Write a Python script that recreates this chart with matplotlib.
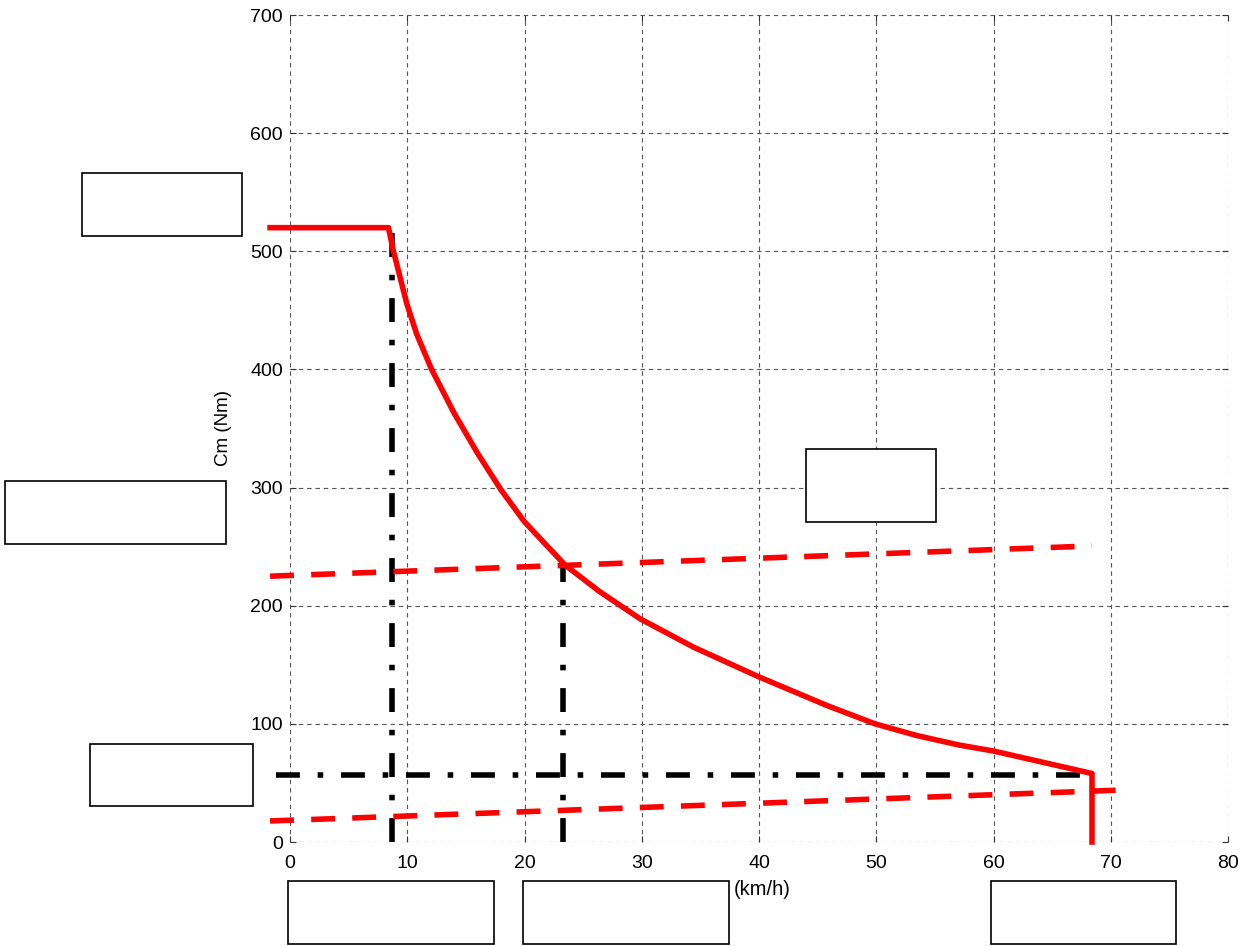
import matplotlib
matplotlib.use("Agg")
import matplotlib.pyplot as plt
from matplotlib.patches import Rectangle

plt.rcParams['font.family'] = ['Liberation Sans', 'DejaVu Sans']

# Torque curve (speed km/h, torque Nm)
curve_x = [-1.7, 8.4, 8.8, 9.95, 10.8, 12.08, 14.0, 16.0, 18.0, 20.0, 23.45,
           26.4, 29.85, 34.4, 39.94, 45.8, 49.9, 53.5, 57.1, 60.0, 68.4, 68.4]
curve_y = [520, 520, 501, 456, 430, 400, 363, 329, 298, 271, 234.5,
           212, 189, 165, 140, 115.5, 100, 90, 82, 77, 58, 0]

# Resistance lines (dashed red)
res_high_x = [-1.7, 68.4]
res_high_y = [225, 250.6]
res_low_x = [-1.7, 71.0]
res_low_y = [17.8, 44.0]

# Operating-point guides (dash-dot black)
guide_v1_x = [8.7, 8.7]
guide_v1_y = [0, 520]
guide_v2_x = [23.3, 23.3]
guide_v2_y = [0, 235]
guide_h_x = [-1.2, 68.4]
guide_h_y = [57, 57]

x_ticks = [0, 10, 20, 30, 40, 50, 60, 70, 80]
y_ticks = [0, 100, 200, 300, 400, 500, 600, 700]

W, H = 1245, 946
fig = plt.figure(figsize=(W / 100, H / 100), dpi=100)
ax = fig.add_axes([290 / W, (H - 842) / H, (1228 - 290) / W, (842 - 15) / H])
ax.set_xlim(0, 80)
ax.set_ylim(0, 700)
ax.set_xticks(x_ticks)
ax.set_yticks(y_ticks)
ax.tick_params(direction='in', length=4, labelsize=14, top=True, right=True,
               color='#333333')
ax.tick_params(axis='x', pad=9)
ax.tick_params(axis='y', pad=5)
for s in ax.spines.values():
    s.set_visible(False)
ax.grid(True, color='#555555', linestyle=(0, (4, 3.5)), linewidth=0.8)
ax.set_axisbelow(True)

LW = 4
dashdot = (0, (4.3, 3.2, 1.0, 3.2))
dashed = (0, (4.3, 3.1))
for gx, gy in [(guide_v1_x, guide_v1_y), (guide_v2_x, guide_v2_y),
               (guide_h_x, guide_h_y)]:
    ax.plot(gx, gy, color='black', lw=LW, linestyle=dashdot,
            clip_on=False, dash_capstyle='butt')
ax.plot(res_high_x, res_high_y, color='red', lw=LW, linestyle=dashed,
        clip_on=False, dash_capstyle='butt')
ax.plot(res_low_x, res_low_y, color='red', lw=LW, linestyle=dashed,
        clip_on=False, dash_capstyle='butt')
ax.plot(curve_x, curve_y, color='red', lw=LW, clip_on=False,
        solid_joinstyle='round')

fig.text(762.5 / W, 1 - 889 / H, '(km/h)', ha='center', va='center',
         fontsize=14.5)
fig.text(223 / W, 1 - 428 / H, 'Cm (Nm)', rotation=90, ha='center',
         va='center', fontsize=13.5)

boxes = [(82, 173, 242, 236), (5, 481, 226, 544), (90, 744, 253, 806),
         (806, 449, 936, 522), (288, 881, 494, 944), (523, 881, 729, 944),
         (991, 881, 1176, 944)]
for x0, y0, x1, y1 in boxes:
    fig.add_artist(Rectangle((x0 / W, 1 - y1 / H), (x1 - x0) / W, (y1 - y0) / H,
                             transform=fig.transFigure, fill=True,
                             facecolor='white', edgecolor='black', lw=1.2))

fig.savefig('out.png', dpi=100)
